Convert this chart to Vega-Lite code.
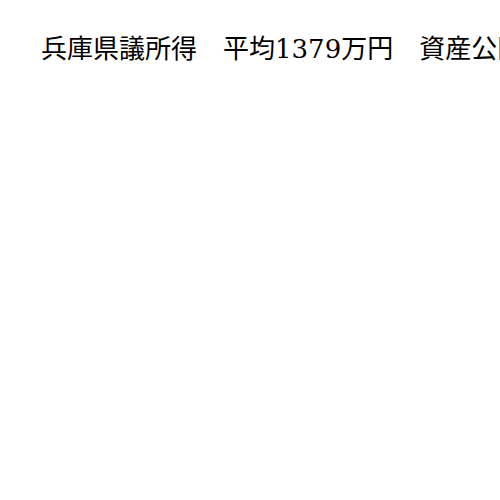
{
  "$schema": "https://vega.github.io/schema/vega-lite/v6.json",
  "width": 460,
  "height": 400,
  "padding": {"left": 41, "top": 63, "right": 0, "bottom": 0},
  "autosize": {"type": "none"},
  "background": "white",
  "title": {
    "text": "兵庫県議所得　平均1379万円　資産公開",
    "anchor": "start",
    "fontSize": 26,
    "font": "DejaVu Serif, Noto Sans CJK JP",
    "fontWeight": "normal",
    "color": "#000000",
    "baseline": "top",
    "offset": 0
  },
  "data": {"values": [{"label": "兵庫県議所得　平均1379万円　資産公開"}]},
  "mark": {"type": "text", "opacity": 0},
  "encoding": {"text": {"field": "label"}},
  "config": {"view": {"stroke": null}}
}
